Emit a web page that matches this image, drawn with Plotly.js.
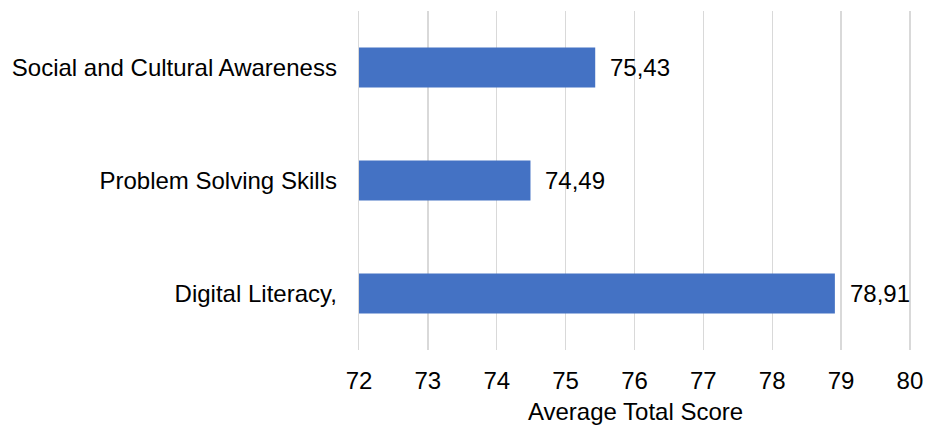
<!DOCTYPE html>
<html>
<head>
<meta charset="utf-8">
<script src="https://cdn.plot.ly/plotly-3.0.1.min.js"></script>
<style>html,body{margin:0;padding:0;background:#fff;}#chart{width:927px;height:428px;}</style>
</head>
<body>
<div id="chart"></div>
<script>
const categories = ["Digital Literacy,", "Problem Solving Skills", "Social and Cultural Awareness"];
const scores = [78.91, 74.49, 75.43];
const tickValues = [72, 73, 74, 75, 76, 77, 78, 79, 80];
const xTitle = "Average Total Score";

const labels = scores.map(v => v.toFixed(2).replace('.', ','));
const FONT = 'Liberation Sans, Arial, sans-serif';

const trace = {
  type: 'bar',
  orientation: 'h',
  y: categories,
  x: scores.map(v => v - 72),
  base: 72,
  marker: {color: '#4472C4'},
  hoverinfo: 'skip'
};

const annotations = categories.map((c, i) => ({
  x: scores[i], y: c, xref: 'x', yref: 'y',
  text: labels[i], showarrow: false, xanchor: 'left', xshift: 13,
  font: {family: FONT, size: 24, color: '#000'}
}));

const layout = {
  width: 927, height: 428,
  margin: {l: 359, r: 15, t: 11, b: 78},
  paper_bgcolor: '#fff', plot_bgcolor: '#fff',
  font: {family: FONT, size: 24, color: '#000'},
  bargap: 0.645,
  showlegend: false,
  xaxis: {
    range: [71.9999, 80.03], tickvals: tickValues, ticktext: tickValues.map(String),
    showgrid: true, gridcolor: '#d9d9d9', gridwidth: 1.3,
    zeroline: false, showline: false, ticks: '',
    ticklabelstandoff: 14,
    title: {text: xTitle, font: {size: 24}, standoff: 10},
    tickfont: {size: 24}
  },
  yaxis: {
    type: 'category', categoryorder: 'array', categoryarray: categories,
    range: [-0.5, 2.5],
    showgrid: false, zeroline: false,
    showline: true, linecolor: '#d9d9d9', linewidth: 1.3,
    ticks: '', ticklabelstandoff: 16,
    tickfont: {size: 24}
  },
  annotations: annotations
};

Plotly.newPlot('chart', [trace], layout, {displayModeBar: false, staticPlot: true});
</script>
</body>
</html>
